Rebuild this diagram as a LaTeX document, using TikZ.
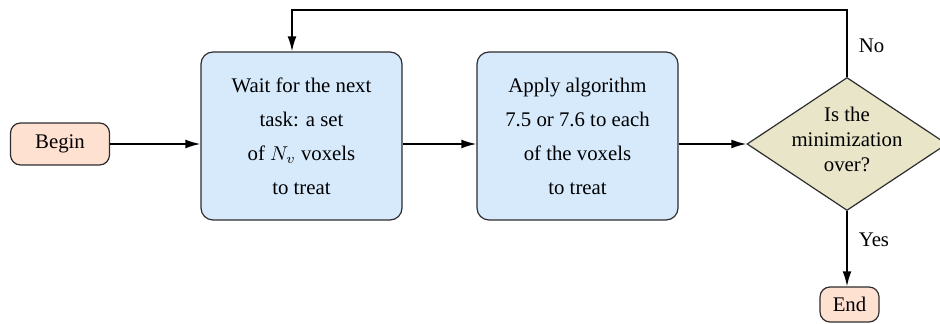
\documentclass[tikz,border=0pt]{standalone}
\usepackage{fontspec}
\setmainfont{Liberation Serif}
\usetikzlibrary{shapes.geometric,arrows.meta,calc}
\definecolor{salmonfill}{RGB}{255,225,210}
\definecolor{bluefill}{RGB}{214,234,252}
\definecolor{khakifill}{RGB}{232,229,200}
\definecolor{bordergray}{RGB}{45,45,45}
\begin{document}
\begin{tikzpicture}[
  x=1pt, y=1pt,
  every node/.style={font=\fontsize{10.4}{12.5}\selectfont},
  termbox/.style={draw=bordergray, line width=0.6pt, fill=salmonfill, rounded corners=5pt, inner sep=0pt},
  procbox/.style={draw=bordergray, line width=0.6pt, fill=bluefill, rounded corners=6pt, inner sep=0pt,
    minimum width=100.5pt, minimum height=84pt, align=center, font=\fontsize{10.4}{17}\selectfont},
  decbox/.style={draw=bordergray, line width=0.6pt, fill=khakifill, diamond, inner sep=0pt,
    minimum width=100pt, minimum height=66.5pt},
  flow/.style={draw=black, line width=0.8pt, -{Latex[length=7.5pt,width=4.4pt]}},
  edgelabel/.style={inner sep=0pt}
]
\useasboundingbox (0,0) rectangle (470,-162);
\node[termbox, minimum width=49.5pt, minimum height=21pt] (begin) at (30,-72) {Begin};
\node[procbox] (b1) at (150.75,-68) {Wait for the next\\task: a set\\of $N_v$ voxels\\to treat};
\node[procbox] (b2) at (288.75,-68) {Apply algorithm\\7.5 or 7.6 to each\\of the voxels\\to treat};
\node[decbox] (d) at (423.5,-72) {};
\node[align=center] (dtext) at ($(d.center)+(0,2.5)$) {Is the\\minimization\\over?};
\node[termbox, minimum width=29.5pt, minimum height=17.5pt] (e) at (424.75,-152.25) {End};
\coordinate (top) at (0,-5);
\coordinate (loopin) at ($(b1.north)+(-4.75,0)$);
\draw[flow] (begin.east) -- (begin.east -| b1.west);
\draw[flow] (b1.east |- begin.east) -- (b2.west |- begin.east);
\draw[flow] (b2.east |- d.west) -- (d.west);
\draw[flow] (d.north) -- node[edgelabel, right, pos=0.46, xshift=5.5pt] {No} (d.north |- top) -| (loopin);
\draw[flow] (d.south) -- node[edgelabel, right, pos=0.38, xshift=5.5pt] {Yes} (d.south |- e.north);
\end{tikzpicture}
\end{document}
